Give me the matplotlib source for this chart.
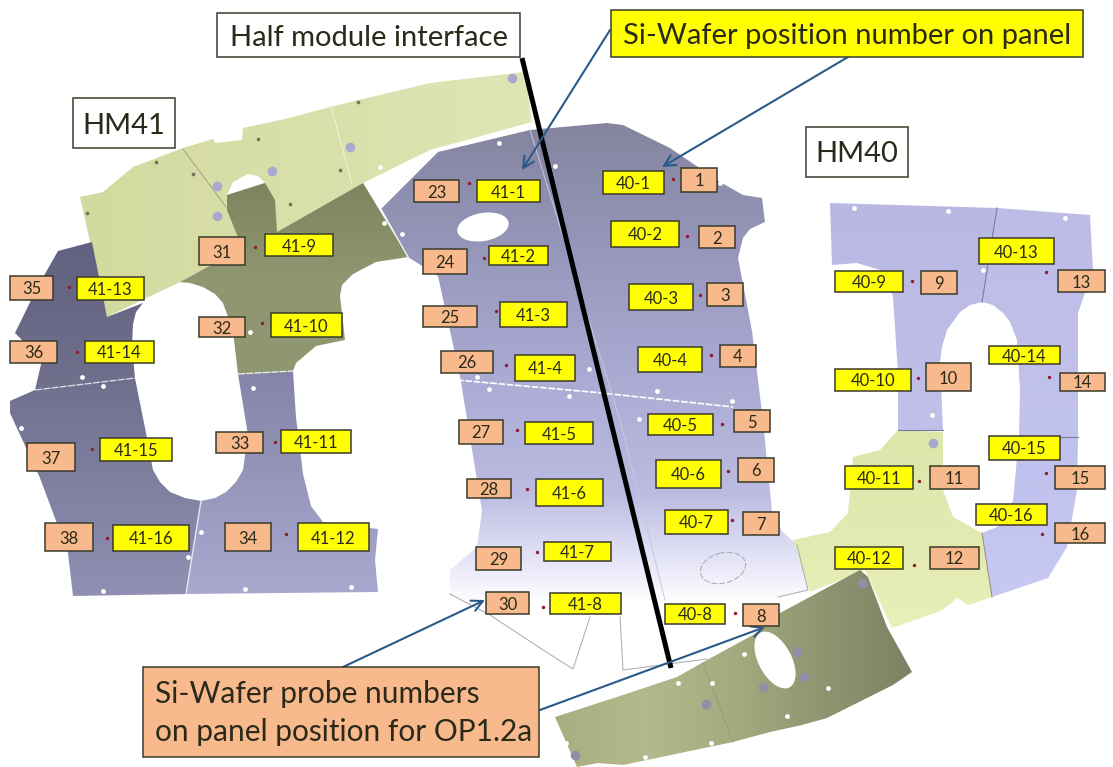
import matplotlib
matplotlib.use("Agg")
import matplotlib.pyplot as plt
import numpy as np
from matplotlib.colors import LinearSegmentedColormap
from matplotlib.patches import Ellipse, Polygon, Rectangle

plt.rcParams["font.family"] = ["Lato", "DejaVu Sans"]

# panel outlines
band_top = [(80, 197), (103, 192), (133, 167), (183, 148), (213, 139), (215, 143), (242, 140), (243, 128),
            (285, 119), (330, 107), (430, 83), (525, 72), (532, 122), (430, 150), (363, 183), (277, 232),
            (180, 282), (107, 317)]
band_hole = [(227, 195), (233, 182), (248, 174), (258, 176), (265, 183)]
olive = [(227, 195), (265, 183), (275, 200), (277, 232), (363, 183), (408, 257), (376, 262), (353, 274),
         (342, 285), (340, 296), (345, 340), (316, 346), (296, 363), (293, 371), (238, 374), (233, 331),
         (223, 303), (215, 294), (203, 287), (190, 283), (180, 282), (243, 248), (237, 235), (227, 210)]
left_top = [(10, 401), (23, 397), (35, 390), (42, 360), (15, 333), (37, 288), (58, 251), (92, 242),
            (107, 317), (143, 303), (136, 312), (133, 324), (132, 346), (135, 378)]
left_low = [(10, 401), (35, 390), (135, 378), (147, 438), (153, 470), (160, 482), (170, 492), (185, 498),
            (201, 501), (186, 594), (73, 596), (68, 553), (40, 478), (10, 413)]
left_right = [(238, 374), (293, 371), (296, 417), (303, 474), (311, 506), (323, 522), (378, 529), (375, 560),
              (378, 592), (186, 594), (201, 501), (215, 498), (226, 492), (236, 482), (243, 470), (248, 435)]
center = [(381, 209), (438, 152), (530, 130), (607, 123), (623, 125), (670, 148), (720, 182), (743, 195),
          (762, 198), (765, 222), (750, 229), (743, 238), (738, 258), (752, 331), (763, 421), (772, 511),
          (782, 531), (797, 545), (808, 590), (778, 597), (775, 608), (713, 660), (670, 664), (623, 669),
          (620, 617), (590, 617), (573, 669), (490, 615), (450, 594), (450, 570), (477, 547), (482, 511),
          (460, 376), (450, 331), (438, 276), (408, 257)]
center_edge_a = [(450, 594), (490, 615), (540, 648), (573, 669), (590, 617)]
center_edge_b = [(707, 659), (623, 670), (620, 617)]
center_edge_c = [(778, 597), (808, 590), (797, 545)]
band_low = [(555, 717), (623, 695), (677, 677), (707, 660), (753, 635), (780, 613), (860, 570), (868, 577),
            (887, 627), (912, 672), (893, 685), (827, 718), (802, 725), (770, 732), (733, 742), (623, 765),
            (598, 763), (577, 767)]
right_a = [(830, 203), (997, 208), (982, 302), (970, 305), (960, 312), (947, 330), (942, 347), (940, 363),
           (943, 430), (898, 430), (898, 373), (893, 297), (890, 287), (880, 270), (857, 263), (832, 265)]
right_b = [(997, 208), (1090, 215), (1093, 270), (1085, 293), (1078, 313), (1078, 437), (1019, 437),
           (1020, 390), (1017, 340), (1010, 322), (1003, 313), (993, 305), (982, 302)]
right_c = [(1019, 437), (1078, 437), (1077, 490), (1067, 547), (1048, 578), (992, 597), (982, 533), (997, 527),
           (1007, 515), (1013, 500)]
right_green = [(898, 430), (943, 432), (943, 490), (953, 517), (982, 533), (992, 597), (968, 605), (957, 598),
               (943, 610), (892, 628), (865, 570), (810, 592), (793, 540), (830, 532), (848, 513), (853, 457),
               (880, 450)]

# yellow wafer labels: text, left, right, top, bottom
yellow_text = ["41-1", "41-2", "41-3", "41-4", "41-5", "41-6", "41-7", "41-8",
               "41-9", "41-10", "41-11", "41-12", "41-13", "41-14", "41-15", "41-16",
               "40-1", "40-2", "40-3", "40-4", "40-5", "40-6", "40-7", "40-8",
               "40-9", "40-10", "40-11", "40-12", "40-13", "40-14", "40-15", "40-16"]
yellow_box = [(477, 540, 180, 202), (489, 548, 246, 265), (500, 567, 302, 327), (515, 575, 355, 381),
              (525, 593, 422, 444), (536, 603, 479, 506), (544, 611, 542, 561), (550, 621, 593, 614),
              (265, 333, 234, 256), (271, 342, 313, 337), (281, 351, 430, 453), (298, 369, 523, 551),
              (77, 144, 277, 300), (85, 154, 341, 363), (100, 172, 438, 461), (113, 189, 525, 551),
              (603, 664, 171, 194), (611, 679, 221, 247), (629, 693, 284, 310), (638, 702, 347, 372),
              (648, 713, 414, 435), (656, 721, 460, 488), (665, 728, 510, 534), (665, 725, 604, 624),
              (835, 903, 271, 292), (835, 911, 369, 391), (845, 913, 466, 489), (835, 903, 547, 569),
              (979, 1054, 238, 264), (989, 1060, 346, 364), (989, 1060, 436, 460), (976, 1047, 504, 525)]

# orange probe labels
probe_text = ["1", "2", "3", "4", "5", "6", "7", "8", "9", "10", "11", "12", "13", "14", "15", "16",
              "23", "24", "25", "26", "27", "28", "29", "30", "31", "32", "33", "34", "35", "36", "37", "38"]
probe_box = [(681, 717, 168, 192), (699, 735, 226, 248), (707, 743, 283, 306), (720, 756, 345, 367),
             (734, 770, 410, 432), (738, 774, 458, 482), (743, 779, 512, 535), (743, 779, 604, 626),
             (921, 957, 271, 294), (926, 971, 363, 391), (930, 979, 466, 489), (930, 979, 547, 569),
             (1058, 1105, 270, 292), (1060, 1105, 373, 391), (1055, 1105, 466, 489), (1055, 1105, 523, 543),
             (414, 459, 180, 202), (423, 467, 249, 274), (423, 477, 306, 327), (441, 493, 351, 373),
             (459, 503, 420, 444), (467, 511, 479, 498), (476, 521, 547, 570), (486, 529, 592, 614),
             (199, 245, 237, 265), (199, 245, 317, 337), (216, 263, 432, 453), (225, 271, 523, 551),
             (10, 53, 276, 300), (10, 57, 341, 363), (27, 75, 443, 471), (45, 93, 523, 551)]
probe_dot_x = [673, 687, 700, 711, 722, 728, 732, 735, 912, 918, 919, 914, 1046, 1049, 1046, 1042,
               469, 484, 496, 506, 517, 527, 537, 543, 255, 262, 275, 286, 69, 77, 92, 107]
probe_dot_y = [179, 236, 295, 355, 424, 471, 520, 613, 281, 378, 481, 565, 272, 377, 473, 534,
               183, 258, 311, 365, 430, 489, 552, 607, 247, 323, 442, 534, 287, 352, 449, 538]

# mounting holes
white_x = [82, 103, 21, 103, 201, 188, 245, 351, 253, 250, 402, 384, 380, 499, 477, 489, 569, 589, 657, 732,
           639, 720, 555, 854, 948, 1065, 983, 932, 678, 712, 744, 828, 787, 711, 645, 566]
white_y = [377, 386, 428, 591, 532, 557, 589, 587, 388, 332, 234, 223, 167, 143, 377, 389, 396, 369, 391, 401,
           419, 183, 166, 208, 211, 218, 270, 415, 683, 683, 654, 688, 716, 743, 757, 743]
bolt_top_x = [217, 217, 272, 350, 512, 933]
bolt_top_y = [186, 216, 171, 147, 78, 443]
bolt_low_x = [862, 797, 804, 763, 706, 575]
bolt_low_y = [583, 652, 677, 687, 704, 755]
pin_x = [156, 258, 358, 340, 290, 87, 193]
pin_y = [162, 139, 102, 170, 204, 213, 174]


def grad_poly(ax, pts, colors, vertical=True):
    pts = np.array(pts)
    cmap = LinearSegmentedColormap.from_list("p", colors)
    g = np.linspace(0, 1, 256)
    g = g.reshape(-1, 1) if vertical else g.reshape(1, -1)
    ext = (pts[:, 0].min(), pts[:, 0].max(), pts[:, 1].max(), pts[:, 1].min())
    im = ax.imshow(g, cmap=cmap, extent=ext, aspect="auto", zorder=ax_z[0], interpolation="bilinear")
    clip = Polygon(pts, closed=True, transform=ax.transData)
    im.set_clip_path(clip)
    ax_z[0] += 1


def label(ax, box, txt, fc, size):
    x0, x1, y0, y1 = box
    ax.add_patch(Rectangle((x0, y0), x1 - x0, y1 - y0, fc=fc, ec="#3a3a2a", lw=1.1, zorder=40))
    ax.text((x0 + x1) / 2, (y0 + y1) / 2, txt, fontsize=size, color="#2a2a1a", ha="center", va="center_baseline", zorder=41)


fig = plt.figure(figsize=(11.13, 7.67), dpi=100)
ax = fig.add_axes([0, 0, 1, 1])
ax_z = [2]

grad_poly(ax, band_top, ["#d3da9f", "#dfe5b5"], vertical=False)
ax.add_patch(Polygon(band_hole, closed=True, fc="white", ec="none", zorder=ax_z[0]))
ax_z[0] += 1
grad_poly(ax, left_top, ["#616180", "#72728f"])
grad_poly(ax, left_low, ["#6f6f8d", "#9090b4"])
grad_poly(ax, left_right, ["#8484a8", "#a9a9d0"])
grad_poly(ax, olive, ["#7d855f", "#8f9771", "#8f9771"])
grad_poly(ax, center, [(0, "#84849f"), (0.2, "#9494b8"), (0.45, "#a9a9d2"), (0.68, "#bcbce2"),
                       (0.8, "#e4e4f8"), (0.88, "#ffffff"), (1, "#ffffff")])
grad_poly(ax, right_a, ["#b8b8e2", "#c0c0ea"])
grad_poly(ax, right_b, ["#bcbce6", "#c2c2ee"])
grad_poly(ax, right_c, ["#c0c0ee", "#c8c8f4"])
grad_poly(ax, right_green, ["#dce5aa", "#e8efb8"])
grad_poly(ax, band_low, ["#a8ae80", "#b3b98c", "#a5ab7e", "#8f9570", "#7d8163"], vertical=False)

z = ax_z[0]
ax.add_patch(Ellipse((483, 227), 52, 28, angle=-10, fc="white", ec="none", zorder=z))
ax.add_patch(Ellipse((723, 568), 46, 30, angle=-15, fc="none", ec="#a8a8a8", lw=0.7, ls=(0, (6, 2)), zorder=z))
ax.add_patch(Ellipse((775, 660), 33, 62, angle=-28, fc="white", ec="none", zorder=z))

# seams between the wafers
ax.plot([457, 602, 733], [380, 393, 407], color="white", lw=1.2, ls=(0, (4, 1)), zorder=z)
ax.plot([35, 135], [390, 378], color="#d8d8e6", lw=1, ls=(0, (5, 1)), zorder=z)
ax.plot([238, 293], [374, 371], color="#e8e8e8", lw=1, ls=(0, (5, 1)), zorder=z)
ax.plot([201, 186], [501, 594], color="#e6e6f0", lw=1, zorder=z)
ax.plot([530, 620, 665], [130, 420, 600], color="#c8c8dc", lw=0.7, zorder=z)
ax.plot([997, 982], [208, 302], color="#7a7a9a", lw=0.8, zorder=z)
ax.plot([898, 943], [430, 430], color="#7a7a9a", lw=0.8, zorder=z)
ax.plot([1019, 1078], [437, 437], color="#7a7a9a", lw=0.8, zorder=z)
ax.plot([982, 992], [533, 597], color="#8a8a7a", lw=0.7, zorder=z)
ax.plot([183, 226], [149, 207], color="#a0a488", lw=0.7, zorder=z)
ax.plot([331, 352], [106, 184], color="#eef0d0", lw=0.9, zorder=z)
ax.plot([703, 733], [663, 742], color="#959b72", lw=0.6, zorder=z)
ax.plot([381, 408], [209, 257], color="#f0f0f0", lw=1, zorder=z)
for edge in [center_edge_a, center_edge_b, center_edge_c]:
    ex, ey = zip(*edge)
    ax.plot(ex, ey, color="#a8a8b0", lw=0.7, zorder=z)

ax.scatter(white_x, white_y, s=12, color="white", lw=0, zorder=z)
ax.scatter(bolt_top_x, bolt_top_y, s=48, color="#a8a8d0", lw=0, zorder=z)
ax.scatter(bolt_low_x, bolt_low_y, s=48, color="#8f8fa8", lw=0, zorder=z)
ax.scatter(pin_x, pin_y, s=7, color="#70745a", lw=0, zorder=z)

# half module line and arrows
ax.plot([522, 671], [58, 668], color="black", lw=3.6, solid_capstyle="butt", zorder=z + 1)
arrow_c = "#2a5a8a"
for a, b in [((610, 30), (522, 170)), ((848, 57), (662, 167)), ((343, 667), (485, 600)), ((540, 710), (765, 627))]:
    ax.annotate("", xy=b, xytext=a, zorder=z + 2,
                arrowprops=dict(arrowstyle="->,head_length=0.8,head_width=0.4", color=arrow_c, lw=1.5,
                                shrinkA=0, shrinkB=0))

ax.scatter(probe_dot_x, probe_dot_y, s=6, color="#8e1c2c", lw=0, zorder=z + 3)

for box, txt in zip(yellow_box, yellow_text):
    label(ax, box, txt, "#ffff00", 12)
for box, txt in zip(probe_box, probe_text):
    label(ax, box, txt, "#f8b98c", 12)

# big callouts
label(ax, (217, 520, 13, 57), "Half module interface", "white", 21)
label(ax, (611, 1083, 10, 57), "Si-Wafer position number on panel", "#ffff00", 21)
label(ax, (73, 175, 98, 148), "HM41", "white", 21)
label(ax, (806, 908, 127, 177), "HM40", "white", 21)
ax.add_patch(Rectangle((143, 667), 396, 90, fc="#f8b98c", ec="#3a3a2a", lw=1.1, zorder=40))
ax.text(155, 713, "Si-Wafer probe numbers\non panel position for OP1.2a", fontsize=21.5, color="#2a2a1a",
        ha="left", va="center", linespacing=1.42, zorder=41)

ax.set_xlim(0, 1113)
ax.set_ylim(767, 0)
ax.axis("off")
fig.savefig("out.png", dpi=100)
